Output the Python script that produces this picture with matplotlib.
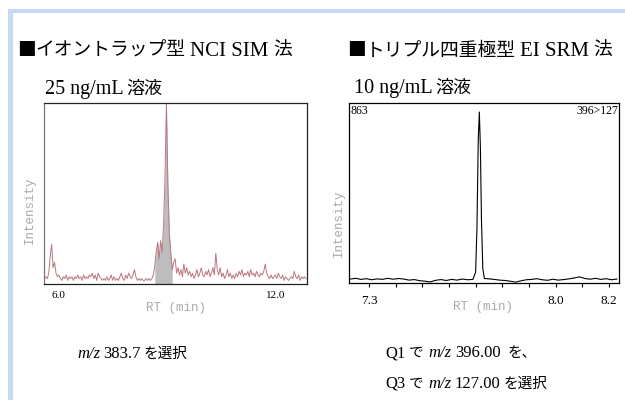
import numpy as np
import matplotlib
matplotlib.use("Agg")
import matplotlib.pyplot as plt
from matplotlib.patches import Rectangle

# ---------------- data ----------------
# Left chromatogram (ion trap NCI SIM), relative intensity, sampled every 0.04 min from 5.62 min
left_start, left_step = 5.62, 0.04
left_values = [
    3, 4, 3, 6, 15, 22, 9, 12, 6, 4,
    5, 3, 2, 4, 3, 5, 2, 4, 3, 4,
    2, 4, 3, 5, 3, 4, 2, 5, 3, 4,
    3, 5, 4, 6, 3, 5, 2, 6, 4, 3,
    2, 3, 2, 4, 2, 3, 5, 2, 4, 2,
    3, 2, 4, 6, 3, 2, 5, 3, 6, 4,
    3, 5, 8, 4, 2, 3, 2, 3, 2, 2,
    3, 2, 3, 2, 3, 5, 10, 18, 23, 14,
    24, 17, 32, 58, 100, 55, 28, 17, 8, 12,
    14, 6, 9, 5, 8, 4, 11, 6, 9, 5,
    7, 4, 6, 3, 5, 8, 4, 6, 9, 5,
    4, 7, 5, 8, 4, 6, 9, 5, 17, 8,
    5, 9, 4, 6, 3, 5, 8, 4, 6, 3,
    5, 3, 6, 4, 7, 5, 8, 4, 6, 5,
    7, 4, 8, 5, 6, 4, 7, 5, 4, 6,
    5, 7, 11, 6, 4, 3, 5, 3, 4, 5,
    3, 6, 4, 3, 5, 2, 4, 3, 2, 3,
    4, 3, 7, 4, 3, 5, 2, 4, 3, 4,
    3,
]
left_peak_window = (8.64, 9.16)
left_ticks = [6.0, 12.0]
left_tick_labels = ["6.0", "12.0"]

# Right chromatogram (triple quad EI SRM 396>127)
right_times = [7.23, 7.25, 7.27, 7.29, 7.31, 7.33, 7.35, 7.37, 7.39, 7.41,
               7.43, 7.45, 7.47, 7.49, 7.51, 7.53, 7.55, 7.57, 7.59, 7.61,
               7.63, 7.65, 7.67, 7.69, 7.700, 7.705, 7.710, 7.714, 7.718, 7.722,
               7.727, 7.733, 7.75, 7.77, 7.79, 7.81, 7.83, 7.85, 7.87, 7.89,
               7.91, 7.93, 7.95, 7.97, 7.99, 8.01, 8.03, 8.05, 8.07, 8.09,
               8.11, 8.13, 8.15, 8.17, 8.19, 8.21, 8.23]
right_values = [2.2, 2.6, 2.0, 2.4, 1.8, 2.3, 2.0, 2.6, 2.1, 2.5,
                2.2, 1.6, 1.9, 1.3, 1.0, 0.6, 1.5, 1.9, 1.4, 2.0,
                1.6, 2.2, 1.8, 2.0, 6.0, 30.0, 80.0, 95.0, 75.0, 35.0,
                8.0, 2.5, 2.3, 2.0, 1.6, 1.4, 1.0, 0.5, 1.2, 1.8,
                2.0, 2.4, 1.8, 1.5, 2.1, 1.6, 1.9, 2.3, 2.8, 3.4,
                2.5, 2.1, 2.6, 2.0, 2.4, 1.8, 2.2]
right_minor_ticks = [7.3, 7.4, 7.5, 7.6, 7.7, 7.8, 7.9, 8.0, 8.1, 8.2]
right_major_ticks = [7.5, 8.0]
right_tick_labels = {7.3: "7.3", 8.0: "8.0", 8.2: "8.2"}
right_counts_label = "863"
right_transition_label = "396>127"

# ---------------- figure ----------------
W, H = 625, 400
fig = plt.figure(figsize=(W / 100, H / 100), dpi=100)
fig.patch.set_facecolor("white")

def fx(x):
    return x / W

def fy(y):
    return 1 - y / H

SERIF = "Liberation Serif"
CJK = "Noto Sans CJK JP"
MONO = "Liberation Mono"
FRAME = "#c8daf2"

# light blue frame (top and left bands)
fig.patches.append(Rectangle((fx(8), fy(13)), 1.0, 4 / H, transform=fig.transFigure,
                             facecolor=FRAME, edgecolor="none"))
fig.patches.append(Rectangle((fx(8), 0), 5 / W, fy(9), transform=fig.transFigure,
                             facecolor=FRAME, edgecolor="none"))

renderer = fig.canvas.get_renderer()

def seq(x, y, pieces):
    """place text pieces one after another; x,y in pixels, y = baseline"""
    cx = x
    for s, kw, gap in pieces:
        t = fig.text(fx(cx), fy(y), s, ha="left", va="baseline", **kw)
        bb = t.get_window_extent(renderer=renderer)
        cx += bb.width + gap

cjk_t = dict(family=[CJK], fontsize=13.5, color="black")
lat_t = dict(family=[SERIF], fontsize=15, color="black")

seq(17, 56, [("■", cjk_t, 0), ("イオントラップ型", cjk_t, 4), ("NCI SIM", lat_t, 5), ("法", cjk_t, 0)])
seq(347, 56, [("■", cjk_t, 0), ("トリプル四重極型", cjk_t, 4), ("EI SRM", lat_t, 5), ("法", cjk_t, 0)])

cjk_s = dict(family=[CJK], fontsize=13, color="black")
lat_s = dict(family=[SERIF], fontsize=14.5, color="black")
seq(45, 94, [("25 ng/mL", lat_s, 3), ("溶液", cjk_s, 0)])
seq(354, 93, [("10 ng/mL", lat_s, 3), ("溶液", cjk_s, 0)])

# ---------------- left axes ----------------
ax1 = fig.add_axes([fx(44), fy(284), (307 - 44) / W, (284 - 103) / H])
t1 = left_start + left_step * np.arange(len(left_values))
v1 = np.array(left_values, dtype=float)
mask = (t1 >= left_peak_window[0]) & (t1 <= left_peak_window[1])
ax1.fill_between(t1[mask], 0, v1[mask], color="#bdbdbd", lw=0)
ax1.plot(t1, v1, color="#b9777e", lw=0.7)
ax1.set_xlim(5.61, 12.85)
ax1.set_ylim(0, 100)
ax1.set_yticks([])
ax1.set_xticks(left_ticks)
ax1.set_xticklabels(left_tick_labels, family=[SERIF], fontsize=8)
ax1.tick_params(axis="x", length=0, pad=5)
for sp in ax1.spines.values():
    sp.set_linewidth(0.9)
    sp.set_color("#222222")
ax1.spines["left"].set_color("#777777")

# ---------------- right axes ----------------
ax2 = fig.add_axes([fx(349), fy(283), (619 - 349) / W, (283 - 103) / H])
ax2.plot(right_times, right_values, color="black", lw=0.8)
ax2.set_xlim(7.225, 8.238)
ax2.set_ylim(0, 100)
ax2.set_yticks([])
ax2.set_xticks(right_minor_ticks)
ax2.set_xticklabels([right_tick_labels.get(round(v, 1), "") for v in right_minor_ticks],
                    family=[SERIF], fontsize=9.5)
ax2.set_xticks(right_major_ticks, minor=True)
ax2.tick_params(axis="x", which="major", length=3, width=0.8, direction="out", pad=6)
ax2.tick_params(axis="x", which="minor", length=6, width=0.8, direction="out")
for sp in ax2.spines.values():
    sp.set_linewidth(0.9)
    sp.set_color("black")
ax2.text(0.004, 0.99, right_counts_label, transform=ax2.transAxes, ha="left", va="top",
         family=[SERIF], fontsize=8.5)
ax2.text(0.998, 0.99, right_transition_label, transform=ax2.transAxes, ha="right", va="top",
         family=[SERIF], fontsize=8.5)

# ---------------- axis titles ----------------
grey = "#a9a9a9"
fig.text(fx(30), fy(210), "Intensity", rotation=90, ha="center", va="center",
         family=[MONO], fontsize=9, color=grey)
fig.text(fx(339), fy(223), "Intensity", rotation=90, ha="center", va="center",
         family=[MONO], fontsize=9, color=grey)
fig.text(fx(176), fy(308), "RT (min)", ha="center", va="center",
         family=[MONO], fontsize=9, color=grey)
fig.text(fx(483), fy(307), "RT (min)", ha="center", va="center",
         family=[MONO], fontsize=9, color=grey)

# ---------------- captions ----------------
cj = dict(family=[CJK], fontsize=10.5, color="black")
lt = dict(family=[SERIF], fontsize=12, color="black")
it = dict(family=[SERIF], fontsize=12, style="italic", color="black")
seq(77, 358, [("m/z", it, 3), ("383.7", lt, 3), ("を選択", cj, 0)])
seq(385, 357, [("Q1", lt, 4), ("で", cj, 5), ("m/z", it, 3), ("396.00", lt, 7), ("を、", cj, 0)])
seq(385, 388, [("Q3", lt, 4), ("で", cj, 5), ("m/z", it, 3), ("127.00", lt, 3), ("を選択", cj, 0)])

fig.savefig("out.png", dpi=100, facecolor="white")
